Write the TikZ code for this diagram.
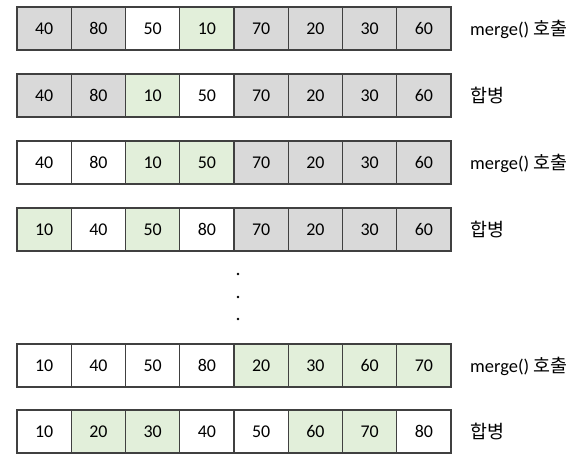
\documentclass[tikz,border=0pt]{standalone}
\usepackage{fontspec}
\setmainfont{Carlito}
\newfontfamily\kr{Noto Sans CJK KR}
\definecolor{cellgray}{HTML}{D9D9D9}
\definecolor{cellgreen}{HTML}{E2EFDA}
\definecolor{edge}{HTML}{404040}
\newcommand\krtext[1]{{\kr\fontsize{18.5}{22}\selectfont #1}}
\tikzset{
  cellbox/.style={draw=edge, line width=1.1bp, minimum width=54.25bp, minimum height=43bp, inner sep=0pt, outer sep=0pt, font=\fontsize{18}{21}\selectfont, anchor=north west},
  g/.style={fill=cellgray},
  w/.style={fill=white},
  n/.style={fill=cellgreen},
  rowlabel/.style={anchor=west, inner sep=0pt, font=\fontsize{18.5}{22}\selectfont},
  dotmark/.style={circle, fill=black, inner sep=0pt, minimum size=2.6bp}
}
\begin{document}
\begin{tikzpicture}[x=1bp,y=-1bp]
\useasboundingbox (0,0) rectangle (583,465);
\newcommand\cellrow[4]{%
  \foreach \v/\s [count=\i from 0] in {#3} {
    \node[cellbox,\s] (r#1c\i) at (17+\i*54.25,#2) {\v};
  }
  \node[rowlabel] (lab#1) at (470,#2+22) {#4};
}
\cellrow{1}{7}{40/g,80/g,50/w,10/n,70/g,20/g,30/g,60/g}{merge() \krtext{호출}}
\cellrow{2}{74}{40/g,80/g,10/n,50/w,70/g,20/g,30/g,60/g}{\krtext{합병}}
\cellrow{3}{141}{40/w,80/w,10/n,50/n,70/g,20/g,30/g,60/g}{merge() \krtext{호출}}
\cellrow{4}{208}{10/n,40/w,50/n,80/w,70/g,20/g,30/g,60/g}{\krtext{합병}}
\cellrow{5}{344}{10/w,40/w,50/w,80/w,20/n,30/n,60/n,70/n}{merge() \krtext{호출}}
\cellrow{6}{410}{10/w,20/n,30/n,40/w,50/w,60/n,70/n,80/w}{\krtext{합병}}
\node[dotmark] (d1) at (238,274) {};
\node[dotmark] (d2) at (238,297) {};
\node[dotmark] (d3) at (238,319) {};
\end{tikzpicture}
\end{document}
